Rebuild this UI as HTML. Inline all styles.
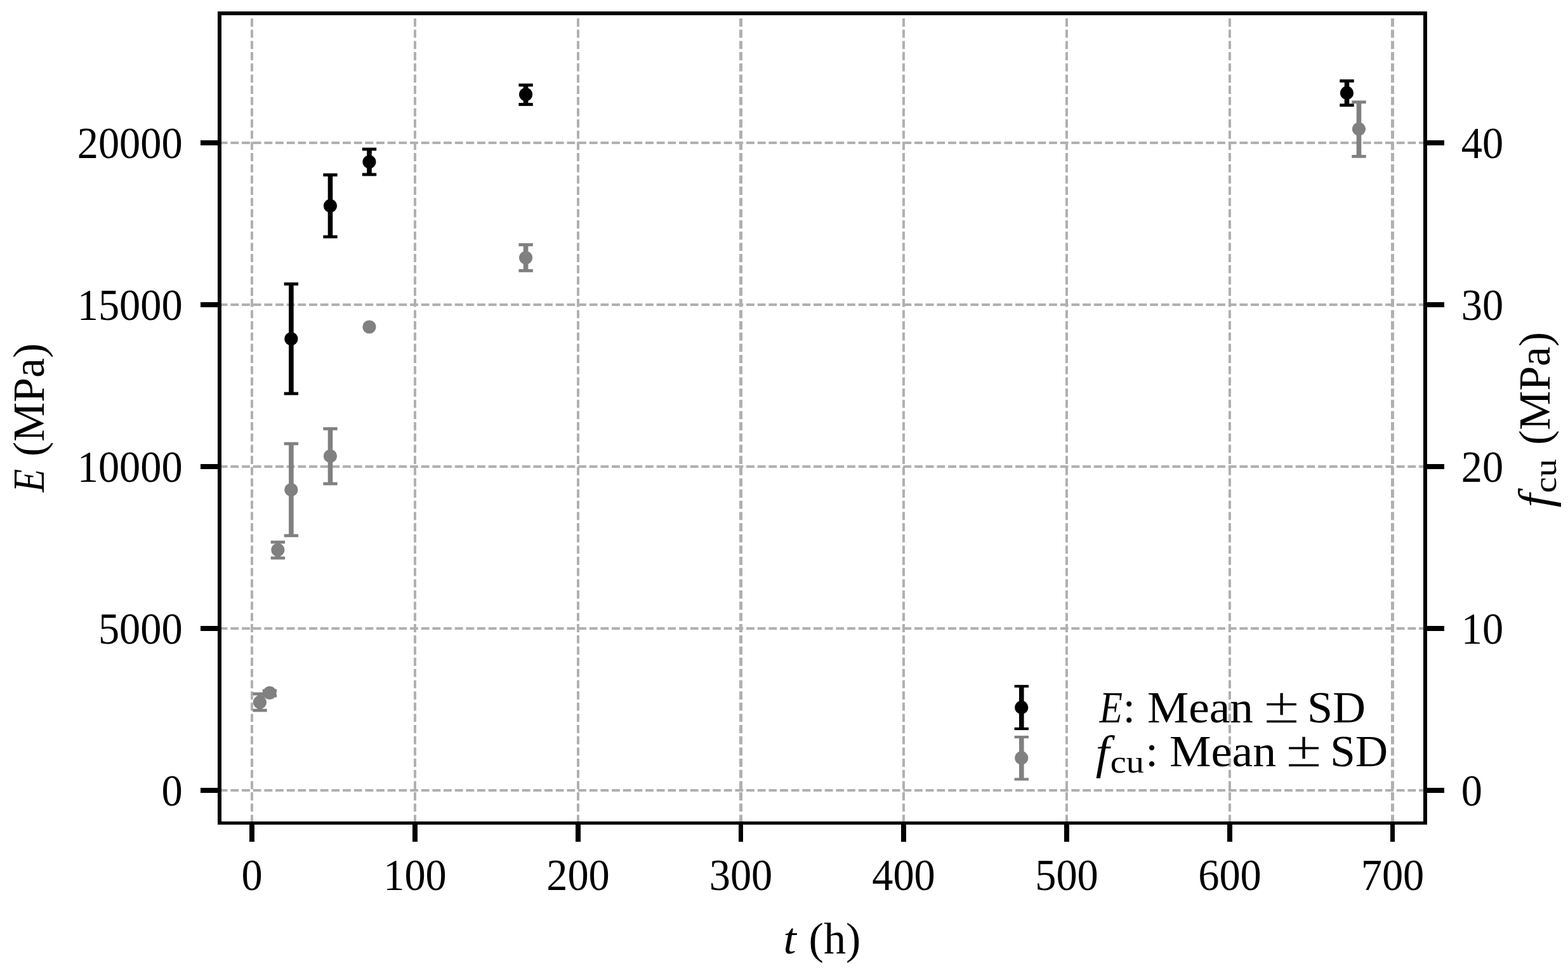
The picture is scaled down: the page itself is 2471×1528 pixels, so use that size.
<!DOCTYPE html>
<html lang="en"><head><meta charset="utf-8"><title>E and f_cu vs t</title>
<style>html,body{margin:0;padding:0;background:#fff;}svg{display:block;}text{font-family:"Liberation Serif","DejaVu Serif",serif;fill:#000;font-kerning:none;font-variant-ligatures:none;white-space:pre;}.i{font-style:italic;}.x{font-family:"DejaVu Sans","Liberation Sans",sans-serif;font-weight:200;stroke:#000;stroke-width:0.5px;}</style></head><body>
<svg width="2471" height="1528" viewBox="0 0 2471 1528">
<rect x="0" y="0" width="2471" height="1528" fill="#ffffff"/>
<clipPath id="ax"><rect x="346" y="26" width="1900" height="1270"/></clipPath>
<g stroke="#b0b0b0" fill="none" stroke-dasharray="12.8 4.8667" clip-path="url(#ax)">
<line x1="397.0" y1="1296.235" x2="397.0" y2="10" stroke-width="4"/>
<line x1="654.0" y1="1296.235" x2="654.0" y2="10" stroke-width="4"/>
<line x1="911.0" y1="1296.235" x2="911.0" y2="10" stroke-width="4"/>
<line x1="1167.5" y1="1296.235" x2="1167.5" y2="10" stroke-width="5"/>
<line x1="1424.0" y1="1296.235" x2="1424.0" y2="10" stroke-width="4"/>
<line x1="1681.0" y1="1296.235" x2="1681.0" y2="10" stroke-width="4"/>
<line x1="1938.0" y1="1296.235" x2="1938.0" y2="10" stroke-width="4"/>
<line x1="2194.5" y1="1296.235" x2="2194.5" y2="10" stroke-width="5"/>
<line x1="345.765" y1="225" x2="2250" y2="225" stroke-width="4"/>
<line x1="345.765" y1="480" x2="2250" y2="480" stroke-width="4"/>
<line x1="345.765" y1="735" x2="2250" y2="735" stroke-width="4"/>
<line x1="345.765" y1="990" x2="2250" y2="990" stroke-width="4"/>
<line x1="345.765" y1="1245" x2="2250" y2="1245" stroke-width="4"/>
</g>
<g fill="#000000" stroke="none">
<rect x="455.10" y="447.30" width="7.6" height="172.70"/>
<rect x="447.70" y="444.90" width="22.4" height="4.8"/>
<rect x="447.70" y="617.60" width="22.4" height="4.8"/>
<circle cx="458.90" cy="533.80" r="10.6"/>
<rect x="516.70" y="275.50" width="7.6" height="97.50"/>
<rect x="509.30" y="273.10" width="22.4" height="4.8"/>
<rect x="509.30" y="370.60" width="22.4" height="4.8"/>
<circle cx="520.50" cy="324.30" r="10.6"/>
<rect x="578.20" y="235.00" width="7.6" height="39.90"/>
<rect x="570.80" y="232.60" width="22.4" height="4.8"/>
<rect x="570.80" y="272.50" width="22.4" height="4.8"/>
<circle cx="582.00" cy="255.10" r="10.6"/>
<rect x="824.80" y="134.00" width="7.6" height="30.50"/>
<rect x="817.40" y="131.60" width="22.4" height="4.8"/>
<rect x="817.40" y="162.10" width="22.4" height="4.8"/>
<circle cx="828.60" cy="148.80" r="10.6"/>
<rect x="2118.70" y="127.50" width="7.6" height="38.20"/>
<rect x="2111.30" y="125.10" width="22.4" height="4.8"/>
<rect x="2111.30" y="163.30" width="22.4" height="4.8"/>
<circle cx="2122.50" cy="146.40" r="10.6"/>
</g>
<g fill="#808080" stroke="none">
<rect x="405.70" y="1093.00" width="7.6" height="26.00"/>
<rect x="398.30" y="1090.60" width="22.4" height="4.8"/>
<rect x="398.30" y="1116.60" width="22.4" height="4.8"/>
<circle cx="409.50" cy="1106.20" r="10.6"/>
<rect x="421.20" y="1088.00" width="7.6" height="8.00"/>
<rect x="413.80" y="1085.60" width="22.4" height="4.8"/>
<rect x="413.80" y="1093.60" width="22.4" height="4.8"/>
<circle cx="425.00" cy="1091.50" r="10.6"/>
<rect x="434.10" y="854.00" width="7.6" height="25.00"/>
<rect x="426.70" y="851.60" width="22.4" height="4.8"/>
<rect x="426.70" y="876.60" width="22.4" height="4.8"/>
<circle cx="437.90" cy="866.30" r="10.6"/>
<rect x="455.10" y="698.90" width="7.6" height="144.90"/>
<rect x="447.70" y="696.50" width="22.4" height="4.8"/>
<rect x="447.70" y="841.40" width="22.4" height="4.8"/>
<circle cx="458.90" cy="771.60" r="10.6"/>
<rect x="516.70" y="675.40" width="7.6" height="86.60"/>
<rect x="509.30" y="673.00" width="22.4" height="4.8"/>
<rect x="509.30" y="759.60" width="22.4" height="4.8"/>
<circle cx="520.50" cy="718.60" r="10.6"/>
<circle cx="582.00" cy="515.00" r="10.6"/>
<rect x="824.80" y="385.50" width="7.6" height="40.90"/>
<rect x="817.40" y="383.10" width="22.4" height="4.8"/>
<rect x="817.40" y="424.00" width="22.4" height="4.8"/>
<circle cx="828.60" cy="406.00" r="10.6"/>
<rect x="2137.70" y="160.80" width="7.6" height="85.60"/>
<rect x="2130.30" y="158.40" width="22.4" height="4.8"/>
<rect x="2130.30" y="244.00" width="22.4" height="4.8"/>
<circle cx="2141.50" cy="203.30" r="10.6"/>
</g>
<g fill="#000000" stroke="none">
<rect x="343" y="18" width="1906" height="6"/>
<rect x="343" y="1294" width="1906" height="5"/>
<rect x="343" y="18" width="6" height="1281"/>
<rect x="2243" y="18" width="6" height="1281"/>
<rect x="393" y="1296" width="8" height="30"/>
<rect x="650" y="1296" width="8" height="30"/>
<rect x="907" y="1296" width="8" height="30"/>
<rect x="1164" y="1296" width="7" height="30"/>
<rect x="1420" y="1296" width="8" height="30"/>
<rect x="1677" y="1296" width="8" height="30"/>
<rect x="1934" y="1296" width="8" height="30"/>
<rect x="2191" y="1296" width="7" height="30"/>
<rect x="316" y="221" width="30" height="8"/>
<rect x="2246" y="221" width="30" height="8"/>
<rect x="316" y="476" width="30" height="8"/>
<rect x="2246" y="476" width="30" height="8"/>
<rect x="316" y="731" width="30" height="8"/>
<rect x="2246" y="731" width="30" height="8"/>
<rect x="316" y="986" width="30" height="8"/>
<rect x="2246" y="986" width="30" height="8"/>
<rect x="316" y="1241" width="30" height="8"/>
<rect x="2246" y="1241" width="30" height="8"/>
</g>
<g>
<text transform="translate(397.00 1402.00) scale(0.9486 1)" font-size="70" text-anchor="middle">0</text>
<text transform="translate(654.00 1402.00) scale(0.9486 1)" font-size="70" text-anchor="middle">100</text>
<text transform="translate(911.00 1402.00) scale(0.9486 1)" font-size="70" text-anchor="middle">200</text>
<text transform="translate(1167.50 1402.00) scale(0.9486 1)" font-size="70" text-anchor="middle">300</text>
<text transform="translate(1424.00 1402.00) scale(0.9486 1)" font-size="70" text-anchor="middle">400</text>
<text transform="translate(1681.00 1402.00) scale(0.9486 1)" font-size="70" text-anchor="middle">500</text>
<text transform="translate(1938.00 1402.00) scale(0.9486 1)" font-size="70" text-anchor="middle">600</text>
<text transform="translate(2194.50 1402.00) scale(0.9486 1)" font-size="70" text-anchor="middle">700</text>
<text transform="translate(287.70 1268.80) scale(0.9486 1)" font-size="70" text-anchor="end">0</text>
<text transform="translate(287.70 1013.80) scale(0.9486 1)" font-size="70" text-anchor="end">5000</text>
<text transform="translate(287.70 758.80) scale(0.9486 1)" font-size="70" text-anchor="end">10000</text>
<text transform="translate(287.70 503.80) scale(0.9486 1)" font-size="70" text-anchor="end">15000</text>
<text transform="translate(287.70 248.80) scale(0.9486 1)" font-size="70" text-anchor="end">20000</text>
<text transform="translate(2302.70 1268.80) scale(0.9486 1)" font-size="70" text-anchor="start">0</text>
<text transform="translate(2302.70 1013.80) scale(0.9486 1)" font-size="70" text-anchor="start">10</text>
<text transform="translate(2302.70 758.80) scale(0.9486 1)" font-size="70" text-anchor="start">20</text>
<text transform="translate(2302.70 503.80) scale(0.9486 1)" font-size="70" text-anchor="start">30</text>
<text transform="translate(2302.70 248.80) scale(0.9486 1)" font-size="70" text-anchor="start">40</text>
</g>
<g>
<text transform="translate(1234.40 1502.00) scale(1.0409 1.0)" font-size="70" class="i">t </text>
<text transform="translate(1274.51 1502.00) scale(1.0031 1.0)" font-size="70">(h)</text>
</g>
<g>
<text transform="translate(68.90 0) rotate(-90) translate(-775.20 0) scale(0.8504 1.0)" font-size="70" class="i">E </text>
<text transform="translate(68.90 0) rotate(-90) translate(-718.97 0) scale(0.9965 1.0)" font-size="70">(MPa)</text>
</g>
<g>
<text transform="translate(2444.40 0) rotate(-90) translate(-799.16 0) scale(1.0999 1.042)" font-size="70" class="i">f</text>
<text transform="translate(2451.60 0) rotate(-90) translate(-776.46 0) scale(1.1320 1.0)" font-size="50">cu </text>
<text transform="translate(2441.80 0) rotate(-90) translate(-700.66 0) scale(0.9942 1.0)" font-size="70">(MPa)</text>
</g>
<g fill="#000000" stroke="none">
<rect x="1606.00" y="1081.00" width="7.6" height="67.00"/>
<rect x="1598.60" y="1078.90" width="22.4" height="4.2"/>
<rect x="1598.60" y="1145.90" width="22.4" height="4.2"/>
<circle cx="1609.80" cy="1114.40" r="10.6"/>
</g>
<g fill="#808080" stroke="none">
<rect x="1606.00" y="1161.00" width="7.6" height="66.50"/>
<rect x="1598.60" y="1158.90" width="22.4" height="4.2"/>
<rect x="1598.60" y="1225.40" width="22.4" height="4.2"/>
<circle cx="1609.80" cy="1193.90" r="10.6"/>
</g>
<g>
<text transform="translate(1732.74 1138.20) scale(0.8469 1.0)" font-size="70" class="i">E</text>
<text transform="translate(1769.66 1138.20) scale(0.9833 1.0)" font-size="70">: </text>
<text transform="translate(1807.88 1138.20) scale(1.0492 1.0)" font-size="70">Mean </text>
<text transform="translate(1988.65 1137.90) scale(0.9972 0.985)" font-size="74" class="x">± </text>
<text transform="translate(2059.98 1138.20) scale(1.0293 1.0)" font-size="70">SD</text>
</g>
<g>
<text transform="translate(1726.84 1209.70) scale(1.0999 1.042)" font-size="70" class="i">f</text>
<text transform="translate(1749.85 1216.80) scale(1.1275 1.0)" font-size="50">cu</text>
<text transform="translate(1805.15 1207.10) scale(1.0198 1.0)" font-size="70">: </text>
<text transform="translate(1842.97 1207.10) scale(1.0550 1.0)" font-size="70">Mean </text>
<text transform="translate(2023.50 1206.80) scale(1.0036 0.985)" font-size="74" class="x">± </text>
<text transform="translate(2096.24 1207.10) scale(1.0159 1.0)" font-size="70">SD</text>
</g>
</svg></body></html>
